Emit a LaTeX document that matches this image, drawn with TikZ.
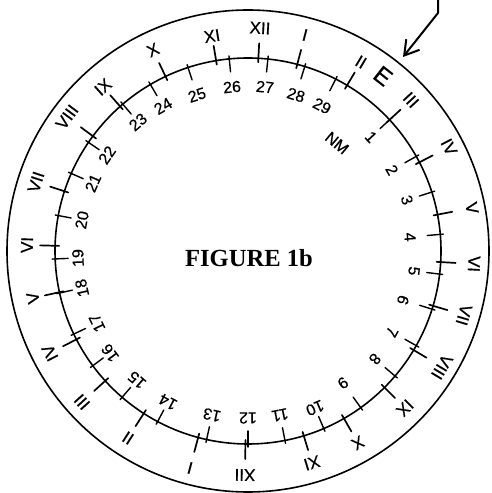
\documentclass[tikz,border=0pt]{standalone}
\usepackage{fontspec}
\setmainfont{Liberation Serif}
\newfontfamily\hand[FakeBold=0.6]{Liberation Sans}
\usetikzlibrary{arrows.meta}
\begin{document}
\begin{tikzpicture}[x=1pt,y=1pt,
  ring/.style={line width=1.6pt},
  tickmark/.style={line width=1.7pt, line cap=round},
  roman/.style={font=\hand\fontsize{17}{17}\selectfont, inner sep=0pt},
  daynum/.style={font=\hand\fontsize{16}{16}\selectfont, inner sep=0pt},
  pointer/.style={line width=2pt, line join=round, -{Straight Barb[length=14pt,width=17pt,line width=2pt]}},
  title/.style={font=\bfseries\fontsize{24.6}{25}\selectfont, inner sep=0pt}
]
\useasboundingbox (0,0) rectangle (491,493);
\coordinate (C) at (248,242);
\draw[ring] (C) circle[radius=241];
\draw[ring] (C) circle[radius=193];

% Roman numerals in the outer ring
\foreach \nm/\px/\py/\txt in {ra/260/28/XII, rb/305/35/I, rc/361/62/II, rd/411/100/III,
  re/449/147/IV, rf/472/208/V, rg/474/264/VI, rh/464/315/VII, ri/442/367/VIII,
  rj/405/408/IX, rk/358/443/X, rl/312/463/XI, rm/245/475/XII, rn/190/468/I,
  ro/128/438/II, rp/82/402/III, rq/50/353/IV, rr/33/298/V, rs/27/245/VI,
  rt/36/182/VII, ru/67/117/VIII, rv/103/87/IX, rw/153/50/X, rx/212/36/XI} {
  \pgfmathsetmacro\ang{atan2(251-\py,\px-248)}
  \node[roman, rotate=\ang-90] (\nm) at (\px,493-\py) {\txt};
  \draw[tickmark] ([shift={(\ang:189)}]C) -- ([shift={(\ang:208)}]C);
}

% Day numbers inside the inner circle
\foreach \nm/\px/\py/\txt in {n1/371/137/1, n2/392/170/2, n3/407/200/3, n4/410/237/4,
  n5/414/271/5, n6/403/300/6, n7/392/332/7, n8/375/359/8, n9/343/383/9,
  n10/315/408/10, n11/280/415/11, n12/248/418/12, n13/212/415/13, n14/168/402/14,
  n15/137/380/15, n16/110/353/16, n17/97/323/17, n18/82/288/18, n19/78/258/19,
  n20/82/220/20, n21/93/183/21, n22/107/155/22, n23/138/122/23, n24/163/106/24,
  n25/197/95/25, n26/232/87/26, n27/265/87/27, n28/296/95/28, n29/322/106/29} {
  \pgfmathsetmacro\ang{atan2(251-\py,\px-248)}
  \node[daynum, rotate=\ang-90] (\nm) at (\px,493-\py) {\txt};
  \draw[tickmark, line width=1.4pt] ([shift={(\ang:196)}]C) -- ([shift={(\ang:180)}]C);
}

\node[daynum, rotate=-40] (nm) at (337,493-143) {NM};
\node[font=\hand\fontsize{24}{24}\selectfont, inner sep=0pt, rotate=-38] (east) at (383,493-76) {E};

\node[title] (fig) at (249,493-258) {FIGURE 1b};

\coordinate (a0) at (438,493);
\coordinate (a1) at (438,480);
\coordinate (a2) at (403,436);
\draw[pointer] (a0) -- (a1) -- (a2);
\end{tikzpicture}
\end{document}
